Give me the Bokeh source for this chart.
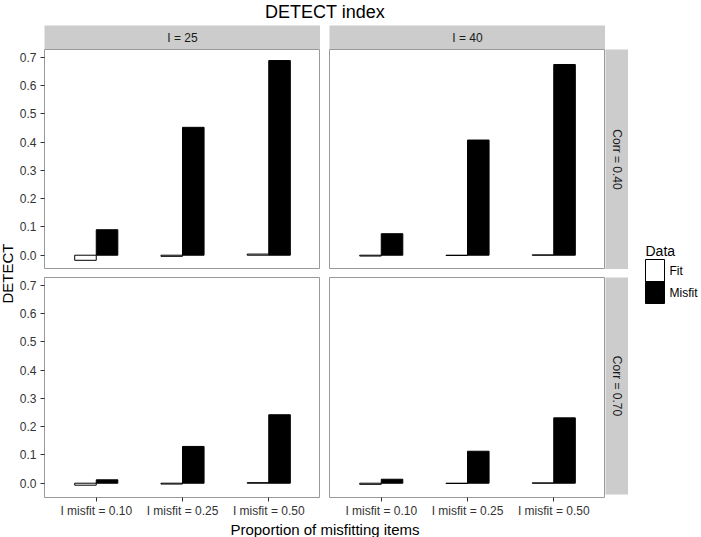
import numpy as np
from bokeh.plotting import figure
from bokeh.models import Range1d, FactorRange, FixedTicker, PrintfTickFormatter, ColumnDataSource, Spacer
from bokeh.layouts import row, column
from bokeh.transform import dodge
from bokeh.core.properties import value
from bokeh.embed import file_html
from bokeh.resources import INLINE

# ---------------- data ----------------
categories = ["I misfit = 0.10", "I misfit = 0.25", "I misfit = 0.50"]
col_labels = ["I = 25", "I = 40"]
row_labels = ["Corr = 0.40", "Corr = 0.70"]
series_names = ["Fit", "Misfit"]
y_ticks = [0.0, 0.1, 0.2, 0.3, 0.4, 0.5, 0.6, 0.7]

fit_i25_corr40 = [-0.018, -0.004, 0.004]
misfit_i25_corr40 = [0.090, 0.452, 0.688]
fit_i40_corr40 = [-0.003, -0.001, 0.001]
misfit_i40_corr40 = [0.076, 0.407, 0.674]
fit_i25_corr70 = [-0.007, -0.003, 0.002]
misfit_i25_corr70 = [0.012, 0.130, 0.242]
fit_i40_corr70 = [-0.004, -0.001, 0.001]
misfit_i40_corr70 = [0.014, 0.113, 0.231]

# ---------------- layout constants ----------------
FONT = value("Liberation Sans")
FW, FH = 276, 220          # panel frame size
YAX = 28                   # y-axis border
GAP = 9                    # gap between columns
VGAP = 8                   # gap between rows
STRIP_H = 24
STRIP_W = 23
XAX = 20
XTITLE_H = 20
TITLE_H = 25
YTITLE_W = 16
LEG_W = 73
Y0, Y1 = -0.0505, 0.727
BODY_H = STRIP_H + FH + VGAP + FH + XAX + XTITLE_H
GRID_W = YAX + FW + GAP + FW + STRIP_W
TOTAL_W = YTITLE_W + GRID_W + LEG_W


def blank(w, h):
    f = figure(width=w, height=h, x_range=Range1d(0, w), y_range=Range1d(0, h),
               output_backend="svg", toolbar_location=None, title=None,
               x_axis_location=None, y_axis_location=None,
               min_border_left=0, min_border_right=0, min_border_top=0, min_border_bottom=0,
               outline_line_color=None, background_fill_color="white", border_fill_color="white")
    f.grid.visible = False
    return f


def panel(fit, misfit, show_y, show_x):
    src = ColumnDataSource(dict(cat=categories, fit=fit, misfit=misfit))
    xr = FactorRange(factors=categories, range_padding=0.1, range_padding_units="absolute")
    p = figure(x_range=xr, y_range=Range1d(Y0, Y1), frame_width=FW, frame_height=FH,
               output_backend="svg", toolbar_location=None, title=None,
               x_axis_location="below" if show_x else None,
               y_axis_location="left" if show_y else None,
               min_border_left=YAX if show_y else 0, min_border_right=0,
               min_border_top=0, min_border_bottom=XAX if show_x else 0,
               background_fill_color="white", border_fill_color="white")
    p.grid.visible = False
    p.outline_line_color = "#999999"
    p.outline_line_width = 1
    p.vbar(x=dodge("cat", -0.125, range=xr), top="fit", bottom=0, width=0.25, source=src,
           fill_color="white", line_color="black", line_width=1)
    p.vbar(x=dodge("cat", 0.125, range=xr), top="misfit", bottom=0, width=0.25, source=src,
           fill_color="black", line_color="black", line_width=1)
    if show_y:
        ax = p.yaxis[0]
        ax.ticker = FixedTicker(ticks=y_ticks)
        ax.formatter = PrintfTickFormatter(format="%.1f")
        ax.axis_line_color = None
        ax.minor_tick_line_color = None
        ax.major_tick_in = 0
        ax.major_tick_out = 4
        ax.major_tick_line_color = "#333333"
        ax.major_label_standoff = 4
        ax.major_label_text_font = "Liberation Sans"
        ax.major_label_text_font_size = "12px"
        ax.major_label_text_color = "#333333"
    if show_x:
        ax = p.xaxis[0]
        ax.axis_line_color = None
        ax.major_tick_in = 0
        ax.major_tick_out = 4
        ax.major_tick_line_color = "#333333"
        ax.major_label_standoff = 2
        ax.major_label_text_font = "Liberation Sans"
        ax.major_label_text_font_size = "12px"
        ax.major_label_text_color = "#333333"
    return p


def strip(text, w, h, vertical=False, bottom_pad=0):
    s = figure(width=w, height=h + bottom_pad, x_range=Range1d(0, 1), y_range=Range1d(0, 1),
               output_backend="svg", toolbar_location=None, title=None,
               x_axis_location=None, y_axis_location=None,
               min_border_left=0, min_border_right=0, min_border_top=0, min_border_bottom=bottom_pad,
               outline_line_color=None, background_fill_color="#CCCCCC", border_fill_color="white")
    s.grid.visible = False
    s.text(x=[0.5], y=[0.5], text=[text], angle=-np.pi / 2 if vertical else 0,
           text_align="center", text_baseline="middle", text_font=FONT,
           text_font_size="12px", text_color="#1a1a1a")
    return s


# title
title_fig = blank(TOTAL_W, TITLE_H)
title_fig.text(x=[YTITLE_W + YAX + (2 * FW + GAP) / 2], y=[TITLE_H - 11.5], text=["DETECT index"],
               text_align="center", text_baseline="middle", text_font=FONT,
               text_font_size="18px", text_color="black")

# column strips
strip_row = row(Spacer(width=YAX, height=STRIP_H), strip(col_labels[0], FW, STRIP_H),
                Spacer(width=GAP, height=STRIP_H), strip(col_labels[1], FW, STRIP_H))

top_row = row(panel(fit_i25_corr40, misfit_i25_corr40, True, False),
              Spacer(width=GAP, height=FH),
              panel(fit_i40_corr40, misfit_i40_corr40, False, False),
              strip(row_labels[0], STRIP_W, FH, vertical=True))

bottom_row = row(panel(fit_i25_corr70, misfit_i25_corr70, True, True),
                 Spacer(width=GAP, height=FH + XAX),
                 panel(fit_i40_corr70, misfit_i40_corr70, False, True),
                 strip(row_labels[1], STRIP_W, FH, vertical=True, bottom_pad=XAX))

xtitle_fig = blank(GRID_W, XTITLE_H)
xtitle_fig.text(x=[YAX + (2 * FW + GAP) / 2], y=[XTITLE_H - 9], text=["Proportion of misfitting items"],
                text_align="center", text_baseline="middle", text_font=FONT,
                text_font_size="15px", text_color="black")

grid_col = column(strip_row, top_row, Spacer(width=GRID_W, height=VGAP), bottom_row, xtitle_fig)

# y title
ytitle_fig = blank(YTITLE_W, BODY_H)
mid = STRIP_H + FH + VGAP / 2
ytitle_fig.text(x=[7], y=[BODY_H - mid], text=["DETECT"], angle=np.pi / 2,
                text_align="center", text_baseline="middle", text_font=FONT,
                text_font_size="15px", text_color="black")

# legend
leg = blank(LEG_W, BODY_H)
leg.text(x=[17], y=[BODY_H - (mid - 23)], text=["Data"], text_align="left", text_baseline="middle",
         text_font=FONT, text_font_size="14px", text_color="black")
key_fill = ["white", "black"]
for i, name in enumerate(series_names):
    yc = BODY_H - (mid - 3 + 22 * i)
    leg.rect(x=[26.5], y=[yc], width=19, height=22, fill_color=key_fill[i], line_color="black", line_width=1)
    leg.text(x=[41], y=[yc], text=[name], text_align="left", text_baseline="middle",
             text_font=FONT, text_font_size="12px", text_color="black")

body = row(ytitle_fig, grid_col, leg)
layout = column(title_fig, body)

open("out.html", "w").write(file_html(layout, INLINE))
